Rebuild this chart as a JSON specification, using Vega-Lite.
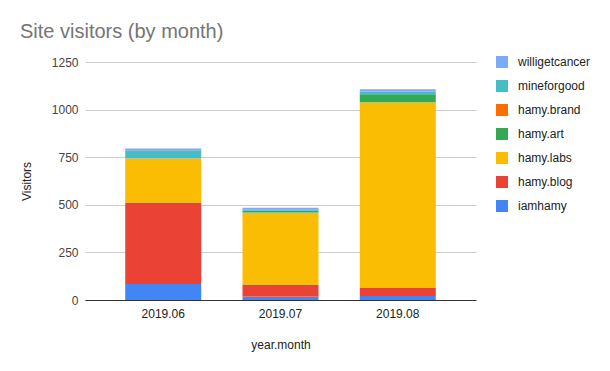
{
  "$schema": "https://vega.github.io/schema/vega-lite/v6.json",
  "width": 391,
  "height": 238,
  "autosize": {"type": "none"},
  "padding": {"left": 85, "top": 62, "right": 134, "bottom": 71},
  "background": "#ffffff",
  "config": {
    "font": "Liberation Sans",
    "view": {"stroke": null}
  },
  "title": {
    "text": "Site visitors (by month)",
    "anchor": "start",
    "frame": "group",
    "dx": -65,
    "offset": 14,
    "fontSize": 20,
    "fontWeight": "normal",
    "color": "#757575"
  },
  "data": {
    "values": [
      {"month": "2019.06", "site": "iamhamy", "order": 1, "visitors": 84},
      {"month": "2019.06", "site": "hamy.blog", "order": 2, "visitors": 428},
      {"month": "2019.06", "site": "hamy.labs", "order": 3, "visitors": 233},
      {"month": "2019.06", "site": "hamy.art", "order": 4, "visitors": 0},
      {"month": "2019.06", "site": "hamy.brand", "order": 5, "visitors": 0},
      {"month": "2019.06", "site": "mineforgood", "order": 6, "visitors": 41},
      {"month": "2019.06", "site": "willigetcancer", "order": 7, "visitors": 10},
      {"month": "2019.07", "site": "iamhamy", "order": 1, "visitors": 19},
      {"month": "2019.07", "site": "hamy.blog", "order": 2, "visitors": 63},
      {"month": "2019.07", "site": "hamy.labs", "order": 3, "visitors": 377},
      {"month": "2019.07", "site": "hamy.art", "order": 4, "visitors": 11},
      {"month": "2019.07", "site": "hamy.brand", "order": 5, "visitors": 0},
      {"month": "2019.07", "site": "mineforgood", "order": 6, "visitors": 7},
      {"month": "2019.07", "site": "willigetcancer", "order": 7, "visitors": 7},
      {"month": "2019.08", "site": "iamhamy", "order": 1, "visitors": 21},
      {"month": "2019.08", "site": "hamy.blog", "order": 2, "visitors": 44},
      {"month": "2019.08", "site": "hamy.labs", "order": 3, "visitors": 973},
      {"month": "2019.08", "site": "hamy.art", "order": 4, "visitors": 43},
      {"month": "2019.08", "site": "hamy.brand", "order": 5, "visitors": 0},
      {"month": "2019.08", "site": "mineforgood", "order": 6, "visitors": 14},
      {"month": "2019.08", "site": "willigetcancer", "order": 7, "visitors": 12}
    ]
  },
  "mark": {"type": "bar"},
  "encoding": {
    "x": {
      "field": "month",
      "type": "nominal",
      "title": "year.month",
      "scale": {"paddingInner": 0.352, "paddingOuter": 0.343},
      "axis": {
        "labelAngle": 0,
        "labelFontSize": 12,
        "labelColor": "#222222",
        "labelPadding": 8,
        "ticks": false,
        "domainColor": "#333333",
        "domainWidth": 1,
        "titleFontSize": 12,
        "titleFontWeight": "normal",
        "titleColor": "#222222",
        "titlePadding": 20
      }
    },
    "y": {
      "field": "visitors",
      "type": "quantitative",
      "aggregate": "sum",
      "stack": "zero",
      "title": "Visitors",
      "scale": {"domain": [0, 1250], "nice": false},
      "axis": {
        "values": [0, 250, 500, 750, 1000, 1250],
        "format": "d",
        "labelFontSize": 12,
        "labelColor": "#444444",
        "labelPadding": 7,
        "ticks": false,
        "domain": false,
        "gridColor": "#cccccc",
        "titleFontSize": 12,
        "titleFontWeight": "normal",
        "titleColor": "#222222",
        "titlePadding": 18
      }
    },
    "order": {"field": "order", "type": "quantitative", "aggregate": "min"},
    "color": {
      "field": "site",
      "type": "nominal",
      "scale": {
        "domain": ["willigetcancer", "mineforgood", "hamy.brand", "hamy.art", "hamy.labs", "hamy.blog", "iamhamy"],
        "range": ["#7baaf7", "#46bdc6", "#ff6d01", "#34a853", "#fbbc04", "#ea4335", "#4285f4"]
      },
      "legend": {
        "title": null,
        "orient": "none",
        "legendX": 411,
        "legendY": -6,
        "symbolType": "square",
        "symbolSize": 144,
        "symbolStrokeWidth": 0,
        "symbolOpacity": 1,
        "labelFontSize": 12,
        "labelColor": "#222222",
        "labelOffset": 10,
        "rowPadding": 12
      }
    }
  }
}
